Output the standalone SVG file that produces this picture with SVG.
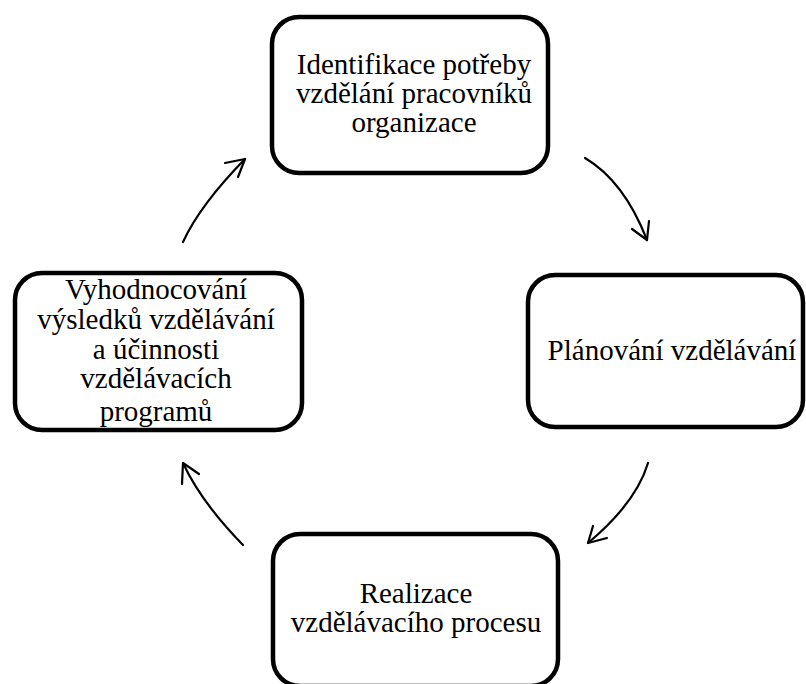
<svg xmlns="http://www.w3.org/2000/svg" width="806" height="684" viewBox="0 0 806 684">
  <style>
    .box { fill: #ffffff; stroke: #000000; stroke-width: 4.5; }
    .label { font-family: "Liberation Serif", "Times New Roman", serif; font-size: 29px; fill: #000000; text-anchor: middle; }
    .arc { fill: none; stroke: #000000; stroke-width: 2.2; stroke-linecap: round; stroke-linejoin: round; }
  </style>
  <rect width="806" height="684" fill="#ffffff"/>

  <g id="node-identifikace">
    <rect class="box" x="272" y="17" width="276" height="156" rx="27" ry="27"/>
    <text class="label" x="414" y="74">Identifikace potřeby</text>
    <text class="label" x="414" y="103">vzdělání pracovníků</text>
    <text class="label" x="414" y="132">organizace</text>
  </g>

  <g id="node-planovani">
    <rect class="box" x="528" y="275" width="275" height="152" rx="27" ry="27"/>
    <text class="label" x="672" y="360">Plánování vzdělávání</text>
  </g>

  <g id="node-realizace">
    <rect class="box" x="273" y="534" width="285" height="152" rx="27" ry="27"/>
    <text class="label" x="416" y="603">Realizace</text>
    <text class="label" x="416" y="632">vzdělávacího procesu</text>
  </g>

  <g id="node-vyhodnocovani">
    <rect class="box" x="15" y="273" width="287" height="157" rx="27" ry="27"/>
    <text class="label" x="156" y="299">Vyhodnocování</text>
    <text class="label" x="156" y="329">výsledků vzdělávání</text>
    <text class="label" x="156" y="359">a účinnosti</text>
    <text class="label" x="156" y="388">vzdělávacích</text>
    <text class="label" x="156" y="421">programů</text>
  </g>

  <g id="connectors">
    <path class="arc" d="M585,158 Q624,181 647,240"/>
    <polyline class="arc" points="632,229 647,240 649,221"/>

    <path class="arc" d="M648,463 Q636,503 588,543"/>
    <polyline class="arc" points="593,526 588,543 607,538"/>

    <path class="arc" d="M243,545 Q201,502 183,463"/>
    <polyline class="arc" points="182,484 183,463 199,474"/>

    <path class="arc" d="M183,242 Q200,205 245,159"/>
    <polyline class="arc" points="225,163 245,159 238,177"/>
  </g>
</svg>
